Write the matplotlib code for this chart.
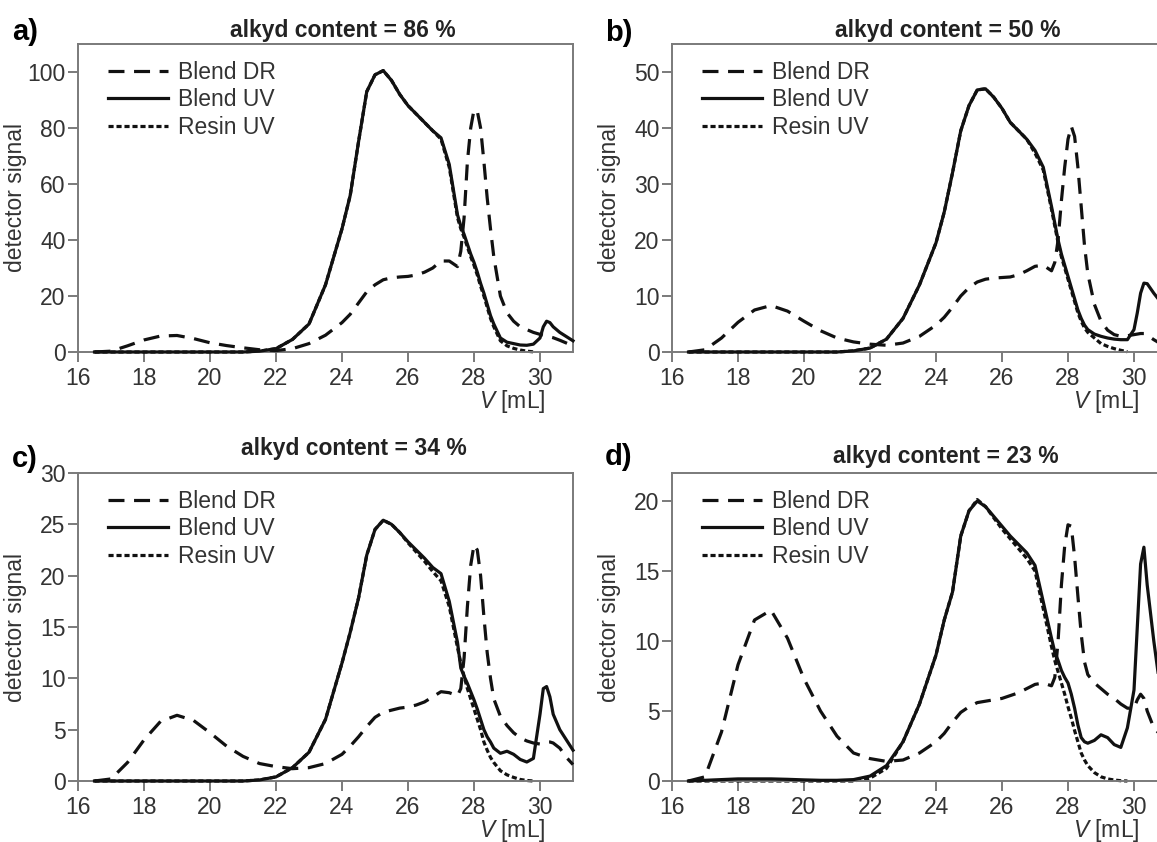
import matplotlib
matplotlib.use("Agg")
import matplotlib.pyplot as plt
import numpy as np

plt.rcParams['font.family'] = ['Liberation Sans', 'DejaVu Sans']
plt.rcParams['mathtext.fontset'] = 'custom'
plt.rcParams['mathtext.rm'] = 'Liberation Sans'
plt.rcParams['mathtext.it'] = 'Liberation Sans:italic'

# elution volume V [mL], shared by all curves
V = [16.5, 17, 17.5, 18, 18.5, 19, 19.5, 20, 20.5, 21, 21.5, 22, 22.5, 23, 23.5, 24,
     24.25, 24.5, 24.75, 25, 25.25, 25.5, 25.75, 26, 26.25, 26.5, 26.75, 27, 27.25, 27.5,
     27.6, 27.7, 27.8, 27.9, 28, 28.1, 28.2, 28.3, 28.4, 28.5, 28.6, 28.8, 29, 29.2, 29.4,
     29.6, 29.8, 30, 30.1, 30.2, 30.3, 30.4, 30.6, 30.8, 31]

# a) alkyd content 86 %
dr_a = [0, 0.3, 2.2, 4.3, 5.7, 5.9, 4.8, 3.3, 2.3, 1.5, 0.8, 0.5, 1.2, 3, 6, 10.5,
        13.5, 17.5, 21.5, 24, 25.8, 26.5, 26.8, 27, 27.5, 28.5, 30, 32.5, 32.5, 30.5,
        36, 48, 68, 80, 86.5, 86, 80, 68, 55, 44, 34, 20, 14, 11, 9,
        8, 7, 6.3, 6, 5.7, 5.4, 5.1, 4.2, 3.2, 2.2]
uv_a = [0, 0, 0, 0, 0, 0, 0, 0, 0, 0, 0.3, 1.2, 4.5, 10, 24, 44,
        56, 75, 93, 99, 100.5, 97, 92, 88, 85, 82, 79, 76.5, 67, 49,
        45, 42, 38.5, 35, 32, 28.5, 24.5, 21, 17, 13, 10, 5, 3.5, 3, 2.5,
        2.4, 2.8, 5, 9, 11, 10.5, 9, 7, 5.5, 4]
resin_a = [0, 0, 0, 0, 0, 0, 0, 0, 0, 0, 0.3, 1.2, 4.5, 10, 24, 44,
           56, 75, 93, 99, 100.5, 97, 92, 88, 85, 82, 79, 76, 66, 48,
           44, 41, 37.5, 34, 31, 27.5, 23.5, 20, 16, 12, 9, 4, 2.2, 1.3, 0.7,
           0.3, 0.05, None, None, None, None, None, None, None, None]

# b) alkyd content 50 %
dr_b = [0, 0.4, 2.5, 5.3, 7.5, 8.3, 7.3, 5.5, 3.8, 2.5, 1.8, 1.4, 1.2, 1.6, 2.8, 4.8,
        6.2, 8, 10, 11.5, 12.5, 13, 13.2, 13.3, 13.4, 13.8, 14.5, 15.3, 15.5, 14.5,
        16, 20, 27, 33, 38, 40.3, 38.5, 33, 26, 19, 14, 8.5, 5.5, 3.9, 3.1,
        2.8, 2.9, 3.1, 3.2, 3.3, 3.3, 3, 2.2, 1.5, 1]
uv_b = [0, 0, 0, 0, 0, 0, 0, 0, 0, 0, 0.2, 0.7, 2.3, 6, 12, 19.5,
        25, 32, 39.5, 44, 46.8, 47, 45.5, 43.5, 41, 39.5, 38, 36, 33, 26,
        23, 20, 17.5, 15.5, 13.5, 11.5, 9.5, 7.5, 6, 4.8, 4, 3.2, 2.8, 2.5, 2.3,
        2.2, 2.2, 4, 7, 10.5, 12.3, 12.2, 10.5, 9, 7.5]
resin_b = [0, 0, 0, 0, 0, 0, 0, 0, 0, 0, 0.2, 0.7, 2.3, 6, 12, 19.5,
           25, 32, 39.5, 44, 46.8, 47, 45.5, 43.5, 41, 39.5, 38, 35.5, 32.5, 25.5,
           22.5, 19.5, 17, 15, 13, 11, 9, 7, 5.5, 4.3, 3.5, 2.5, 1.5, 1, 0.6,
           0.3, 0.05, None, None, None, None, None, None, None, None]

# c) alkyd content 34 %
dr_c = [0, 0.2, 1.8, 4, 5.8, 6.4, 5.9, 4.7, 3.4, 2.4, 1.7, 1.4, 1.2, 1.3, 1.7, 2.6,
        3.4, 4.3, 5.3, 6.2, 6.7, 6.9, 7.1, 7.2, 7.4, 7.7, 8.2, 8.7, 8.6, 8.3,
        9, 12, 17, 21, 23, 22.5, 20, 16, 12.5, 10, 8, 6.3, 5.4, 4.7, 4.2,
        3.9, 3.7, 3.6, 3.7, 3.8, 3.8, 3.7, 3.2, 2.3, 1.6]
uv_c = [0, 0, 0, 0, 0, 0, 0, 0, 0, 0, 0.1, 0.4, 1.3, 2.8, 6, 11.5,
        14.5, 17.8, 22, 24.5, 25.4, 25, 24.2, 23.3, 22.5, 21.7, 20.8, 20.2, 17.5, 13.5,
        11, 10.2, 9.5, 8.7, 7.9, 7, 6, 5, 4.3, 3.8, 3.2, 2.7, 2.9, 2.6, 2.1,
        1.85, 2.2, 6.5, 9, 9.2, 8.2, 6.5, 5, 4, 3]
resin_c = [0, 0, 0, 0, 0, 0, 0, 0, 0, 0, 0.1, 0.4, 1.3, 2.8, 6, 11.5,
           14.5, 17.8, 22, 24.5, 25.4, 25, 24.2, 23.2, 22.3, 21.4, 20.4, 19.5, 17, 13,
           11.5, 10.2, 9, 8, 7, 6, 5, 3.8, 3, 2.3, 1.8, 1, 0.6, 0.35, 0.15,
           0.05, 0, None, None, None, None, None, None, None, None]

# d) alkyd content 23 %
dr_d = [0, 0.3, 3.5, 8.3, 11.5, 12.2, 10.2, 7.3, 5, 3.2, 2, 1.6, 1.4, 1.5, 2, 2.8,
        3.4, 4.2, 4.9, 5.3, 5.6, 5.7, 5.8, 5.9, 6.1, 6.3, 6.6, 6.9, 7, 6.8,
        7.4, 10, 14, 16.8, 18.3, 18.2, 16, 13.2, 10.5, 8.5, 7.6, 7, 6.6, 6.2, 5.9,
        5.5, 5.2, 5.2, 5.8, 6.2, 5.9, 5, 3.8, 3.3, 3]
uv_d = [0, 0.05, 0.1, 0.15, 0.15, 0.15, 0.12, 0.08, 0.05, 0.05, 0.1, 0.35, 1.1, 2.8, 5.5, 9,
        11.5, 13.5, 17.5, 19.3, 20, 19.6, 18.9, 18.2, 17.5, 16.9, 16.3, 15.4, 12.8, 10.2,
        9.2, 8.6, 7.9, 7.4, 7, 6.2, 5.2, 4, 3.1, 2.8, 2.7, 2.9, 3.3, 3.1, 2.6,
        2.4, 3.8, 6.5, 11, 15.5, 16.7, 14, 10, 6.5, 4]
resin_d = [0, 0, 0, 0, 0, 0, 0, 0, 0, 0, 0, 0.2, 0.9, 2.8, 5.5, 9,
           11.5, 13.5, 17.5, 19.3, 20.1, 19.6, 18.8, 18, 17.3, 16.6, 15.9, 15, 12.3, 9.6,
           8.6, 7.8, 7, 6.2, 5.3, 4.5, 3.6, 2.8, 2, 1.5, 1.1, 0.6, 0.3, 0.15, 0.07,
           0.02, 0, None, None, None, None, None, None, None, None]

letters = ['a)', 'b)', 'c)', 'd)']
contents = [86, 50, 34, 23]
ymax = [110, 55, 30, 22]
yticks = [np.arange(0, 101, 20), np.arange(0, 51, 10), np.arange(0, 31, 5), np.arange(0, 21, 5)]
series = [(dr_a, uv_a, resin_a), (dr_b, uv_b, resin_b), (dr_c, uv_c, resin_c), (dr_d, uv_d, resin_d)]

W, H = 1157, 842
fig = plt.figure(figsize=(W / 100, H / 100), dpi=100)
# axes boxes in pixels: left, top
boxes = [(78, 44), (672, 44), (78, 473), (672, 473)]
aw, ah = 495, 308
letter_pos = [(12, 32), (605, 33), (12, 459), (605, 457)]
title_pos = [(343, 30), (948, 30), (354, 448), (946, 457)]

fs = 16.5
spine_col = '#7a7a7a'
txt_col = '#333333'

for i in range(4):
    l, t = boxes[i]
    ax = fig.add_axes([l / W, 1 - (t + ah) / H, aw / W, ah / H])
    dr, uv, resin = series[i]
    x = np.array(V)
    ax.plot(x, np.array(resin, dtype=float), color='#111111', lw=2.3, dashes=(1.6, 0.9),
            label='Resin UV', zorder=2, clip_on=False)
    ax.plot(x, np.array(uv, dtype=float), color='#111111', lw=2.3, label='Blend UV',
            zorder=3, clip_on=False)
    ax.plot(x, np.array(dr, dtype=float), color='#111111', lw=2.3, dashes=(5, 3),
            label='Blend DR', zorder=4, clip_on=False)
    ax.set_xlim(16, 31)
    ax.set_ylim(0, ymax[i])
    ax.set_xticks(np.arange(16, 31, 2))
    ax.set_yticks(yticks[i])
    for s in ax.spines.values():
        s.set_color(spine_col)
        s.set_linewidth(1.4)
    ax.tick_params(direction='out', length=7, width=1.4, color=spine_col,
                   labelsize=fs, labelcolor=txt_col, pad=2)
    ax.tick_params(axis='x', pad=4)
    ax.set_ylabel('detector signal', fontsize=fs, color=txt_col)
    ax.yaxis.set_label_coords(-0.104, 0.5)
    ax.text(0.945, -0.16, r'$V$ [mL]', transform=ax.transAxes, ha='right', va='center',
            fontsize=fs, color=txt_col)
    h, lab = ax.get_legend_handles_labels()
    order = [2, 1, 0]
    ax.legend([h[k] for k in order], [lab[k] for k in order], loc='upper left',
              bbox_to_anchor=(0.061, 0.946), frameon=False, fontsize=fs,
              handlelength=2.6, handletextpad=0.45, labelspacing=0.2,
              borderpad=0, borderaxespad=0, labelcolor=txt_col)
    lx, ly = letter_pos[i]
    fig.text(lx / W, 1 - ly / H, letters[i], fontsize=21, fontweight='bold',
             ha='left', va='center')
    tx, ty = title_pos[i]
    fig.text(tx / W, 1 - ty / H, 'alkyd content = %d %%' % contents[i], fontsize=fs,
             fontweight='bold', ha='center', va='center', color='#222222')

fig.savefig('out.png', dpi=100)
